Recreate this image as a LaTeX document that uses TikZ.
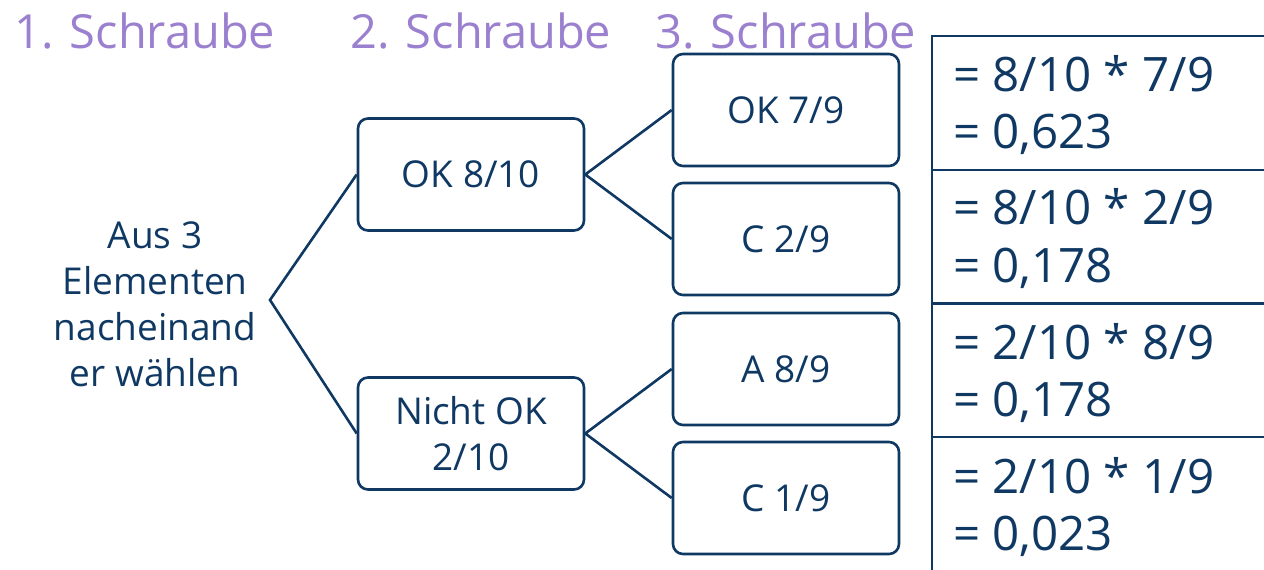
\documentclass[tikz,border=0pt]{standalone}
\usepackage{fontspec}
\setmainfont{Open Sans}
\definecolor{navy}{HTML}{0F3863}
\definecolor{lila}{HTML}{9A80CE}
\begin{document}
\begin{tikzpicture}[x=1pt,y=-1pt,
  box/.style={draw=navy, line width=2.6pt, rounded corners=10pt, minimum width=226pt, minimum height=112pt, inner sep=0pt, text=navy, align=center, font=\fontsize{37}{46}\selectfont},
  conn/.style={draw=navy, line width=2.6pt},
  head/.style={text=lila, anchor=base west, inner sep=0pt, font=\fontsize{47}{56}\selectfont},
  res/.style={text=navy, anchor=base west, inner sep=0pt, font=\fontsize{47.5}{56}\selectfont},
  tab/.style={draw=navy, line width=2.8pt}]
\useasboundingbox (0,0) rectangle (1264,570);
% headings
\node[head] (h1) at (14,48) {1. Schraube};
\node[head] (h2) at (350,48) {2. Schraube};
\node[head] (h3) at (655,48) {3. Schraube};
% root
\node[text=navy, align=center, inner sep=0pt, font=\fontsize{37}{46}\selectfont] (root) at (155,304) {Aus 3\\Elementen\\nacheinand\\er wählen};
\coordinate (r) at (270,300);
% boxes
\node[box] (b1) at (471,174.5) {OK 8/10};
\node[box] (b2) at (471,433.5) {Nicht OK\\2/10};
\node[box] (c1) at (786,110) {OK 7/9};
\node[box] (c2) at (786,239) {C 2/9};
\node[box] (c3) at (786,369) {A 8/9};
\node[box] (c4) at (786,498) {C 1/9};
% connectors
\draw[conn] (b1.west) -- (r) -- (b2.west);
\draw[conn] (c1.west) -- (b1.east) -- (c2.west);
\draw[conn] (c3.west) -- (b2.east) -- (c4.west);
% table
\draw[tab] (932,572) -- (932,36) -- (1266,36);
\draw[tab] (932,170) -- (1266,170);
\draw[tab] (932,303.5) -- (1266,303.5);
\draw[tab] (932,437) -- (1266,437);
\node[res] (t1a) at (953,91) {= 8/10 * 7/9};
\node[res] (t1b) at (953,148) {= 0,623};
\node[res] (t2a) at (953,224) {= 8/10 * 2/9};
\node[res] (t2b) at (953,282) {= 0,178};
\node[res] (t3a) at (953,359) {= 2/10 * 8/9};
\node[res] (t3b) at (953,416) {= 0,178};
\node[res] (t4a) at (953,493) {= 2/10 * 1/9};
\node[res] (t4b) at (953,550) {= 0,023};
\end{tikzpicture}
\end{document}
